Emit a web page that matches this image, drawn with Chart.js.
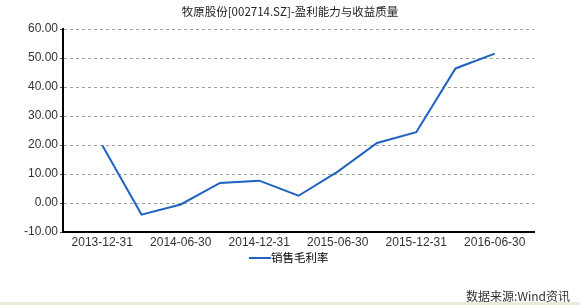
<!DOCTYPE html>
<html>
<head>
<meta charset="utf-8">
<script src="https://cdn.jsdelivr.net/npm/chart.js@4/dist/chart.umd.min.js"></script>
<style>
  html, body { margin: 0; padding: 0; background: #fff; }
  #wrap { position: relative; width: 580px; height: 305px; overflow: hidden; }
  #source { position: absolute; right: 10px; top: 287px; font: 12px "Noto Sans CJK SC", sans-serif; color: #333; }
  #strip { position: absolute; left: 0; bottom: 0; width: 580px; height: 3px; background: #ece9d8; }
</style>
</head>
<body>
<div id="wrap">
  <canvas id="c" width="580" height="305"></canvas>
  <div id="source">数据来源:Wind资讯</div>
  <div id="strip"></div>
</div>
<script>
const titleText = '牧原股份[002714.SZ]-盈利能力与收益质量'
const seriesName = '销售毛利率'

// quarterly report dates, with an empty slot at each end
const periods = ['', '2013-12-31', '2014-03-31', '2014-06-30', '2014-09-30', '2014-12-31',
  '2015-03-31', '2015-06-30', '2015-09-30', '2015-12-31', '2016-03-31', '2016-06-30', '']
const shownLabels = ['2013-12-31', '2014-06-30', '2014-12-31', '2015-06-30', '2015-12-31', '2016-06-30']
const grossMargin = [null, 19.9, -4.0, -0.5, 6.9, 7.7, 2.5, 10.8, 20.7, 24.4, 46.4, 51.5, null]

const lineColor = '#1f62c0'

const decor = {
  id: 'decor',
  afterDraw (chart) {
    const ctx = chart.ctx
    ctx.save()
    ctx.fillStyle = '#222'
    ctx.font = '11.5px "Noto Sans CJK SC", sans-serif'
    ctx.textAlign = 'center'
    ctx.textBaseline = 'middle'
    ctx.fillText(titleText, 290, 12)
    // legend
    ctx.strokeStyle = lineColor
    ctx.lineWidth = 2
    ctx.beginPath()
    ctx.moveTo(249, 258)
    ctx.lineTo(271, 258)
    ctx.stroke()
    ctx.fillStyle = '#000'
    ctx.textAlign = 'left'
    ctx.fillText(seriesName, 271, 258)
    ctx.restore()
  },
}

new Chart(document.getElementById('c').getContext('2d'), {
  type: 'line',
  data: {
    labels: periods,
    datasets: [{
      label: seriesName,
      data: grossMargin,
      borderColor: lineColor,
      borderWidth: 2,
      pointRadius: 0,
      tension: 0,
    }],
  },
  options: {
    responsive: false,
    animation: false,
    layout: { padding: { left: 0, right: 46, top: 29, bottom: 53 } },
    scales: {
      x: {
        offset: false,
        afterFit: (s) => { s.height = 20 },
        grid: { display: false, drawTicks: false },
        border: { color: '#000', width: 2 },
        ticks: {
          autoSkip: false,
          maxRotation: 0,
          color: '#333',
          font: { family: 'Liberation Sans', size: 12 },
          padding: 3,
          callback (v, i) {
            const l = periods[i]
            return shownLabels.includes(l) ? l : ''
          },
        },
      },
      y: {
        min: -10,
        max: 60,
        afterFit: (s) => { s.width = 63 },
        border: { color: '#000', width: 2, dash: [3, 3] },
        grid: { color: '#a0a0a0', tickLength: 3, tickColor: '#555', tickBorderDash: [] },
        ticks: {
          stepSize: 10,
          color: '#333',
          font: { family: 'Liberation Sans', size: 12 },
          padding: 2,
          callback: (v) => v.toFixed(2),
        },
      },
    },
    plugins: {
      legend: { display: false },
      tooltip: { enabled: false },
      title: { display: false },
    },
  },
  plugins: [decor],
})
</script>
</body>
</html>
